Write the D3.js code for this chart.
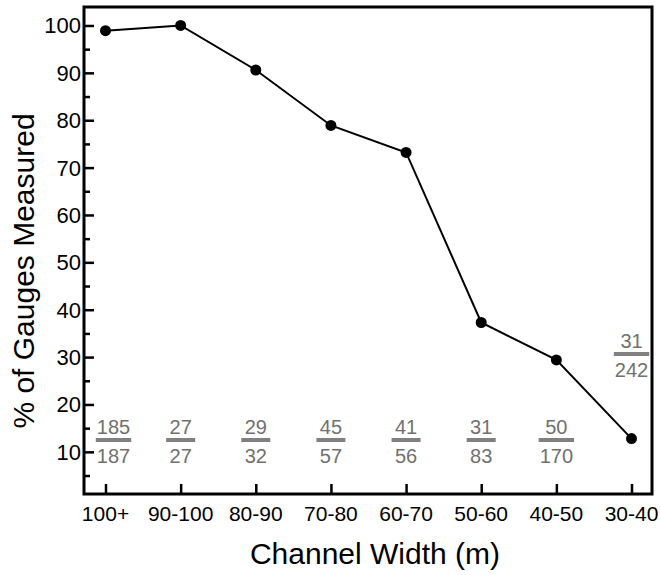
<!DOCTYPE html>
<html>
<head>
<meta charset="utf-8">
<script src="https://cdn.jsdelivr.net/npm/d3@7"></script>
<style>
  body { margin: 0; background: #fff; }
  svg { font-family: "Liberation Sans", Arial, sans-serif; }
</style>
</head>
<body>
<div id="chart"></div>
<script>
// data
var widthClasses = ["100+", "90-100", "80-90", "70-80", "60-70", "50-60", "40-50", "30-40"];
var pctMeasured = [98.9, 100, 90.6, 78.9, 73.2, 37.3, 29.4, 12.8];
var gaugesMeasured = [185, 27, 29, 45, 41, 31, 50, 31];
var gaugesTotal = [187, 27, 32, 57, 56, 83, 170, 242];
var yTicks = [10, 20, 30, 40, 50, 60, 70, 80, 90, 100];

var W = 661, H = 575;
var plotL = 84, plotR = 652, plotT = 7, plotB = 494;

var svg = d3.select("#chart").append("svg").attr("width", W).attr("height", H);

var x = d3.scalePoint().domain(widthClasses).range([105.5, 631.5]);
var y = d3.scaleLinear().domain([1.1, 103.9]).range([plotB, plotT]);

// y axis (ticks point inward)
var yAxis = svg.append("g").attr("transform", "translate(" + plotL + ",0)");
yAxis.call(d3.axisRight(y).tickValues(yTicks).tickSize(10).tickFormat(""));
yAxis.selectAll(".tick line").attr("stroke", "#000").attr("stroke-width", 2.5);
yAxis.select(".domain").remove();

var yMinor = svg.append("g").attr("transform", "translate(" + plotL + ",0)");
yMinor.call(d3.axisRight(y).tickValues(d3.range(5, 101, 10)).tickSize(6).tickFormat(""));
yMinor.selectAll(".tick line").attr("stroke", "#000").attr("stroke-width", 2.5);
yMinor.select(".domain").remove();

svg.append("g").selectAll("text").data(yTicks).join("text")
  .attr("x", plotL - 3).attr("y", function(d) { return y(d); })
  .attr("dy", "0.36em").attr("text-anchor", "end")
  .attr("font-size", 22).attr("fill", "#000")
  .text(function(d) { return d; });

// x axis
var xAxis = svg.append("g").attr("transform", "translate(0," + plotB + ")");
xAxis.call(d3.axisTop(x).tickSize(10).tickFormat(""));
xAxis.selectAll(".tick line").attr("stroke", "#000").attr("stroke-width", 2.5);
xAxis.select(".domain").remove();

svg.append("g").selectAll("text").data(widthClasses).join("text")
  .attr("x", function(d) { return x(d); }).attr("y", 521)
  .attr("text-anchor", "middle").attr("font-size", 21).attr("fill", "#000")
  .text(function(d) { return d; });

// frame
svg.append("rect").attr("x", plotL).attr("y", plotT)
  .attr("width", plotR - plotL).attr("height", plotB - plotT)
  .attr("fill", "none").attr("stroke", "#000").attr("stroke-width", 3);

// line + points
var pts = widthClasses.map(function(c, i) { return { c: c, v: pctMeasured[i] }; });
svg.append("path").datum(pts)
  .attr("fill", "none").attr("stroke", "#000").attr("stroke-width", 2)
  .attr("d", d3.line().x(function(d) { return x(d.c); }).y(function(d) { return y(d.v); }));
svg.append("g").selectAll("circle").data(pts).join("circle")
  .attr("cx", function(d) { return x(d.c); }).attr("cy", function(d) { return y(d.v); })
  .attr("r", 5.5).attr("fill", "#000");

// fractions
var frac = svg.append("g");
widthClasses.forEach(function(c, i) {
  var cx = x(c) + (i === 0 ? 8 : 0);
  var barY = i === widthClasses.length - 1 ? 354 : 440;
  var g = frac.append("g").attr("transform", "translate(" + cx + "," + barY + ")");
  var t1 = g.append("text").attr("y", -6).attr("text-anchor", "middle")
    .attr("font-size", 20).attr("fill", "#707070").text(gaugesMeasured[i]);
  var t2 = g.append("text").attr("y", 23).attr("text-anchor", "middle")
    .attr("font-size", 20).attr("fill", "#707070").text(gaugesTotal[i]);
  var w = Math.max(t1.node().getBBox().width, t2.node().getBBox().width);
  var bw = Math.max(29, w + 2);
  g.append("rect").attr("x", -bw / 2).attr("y", -2).attr("width", bw).attr("height", 4).attr("fill", "#808080");
});

// axis titles
svg.append("text").attr("x", 375).attr("y", 564).attr("text-anchor", "middle")
  .attr("font-size", 30).attr("fill", "#000").text("Channel Width (m)");
svg.append("text").attr("transform", "translate(34,271) rotate(-90)")
  .attr("text-anchor", "middle").attr("font-size", 30).attr("fill", "#000")
  .text("% of Gauges Measured");
</script>
</body>
</html>
